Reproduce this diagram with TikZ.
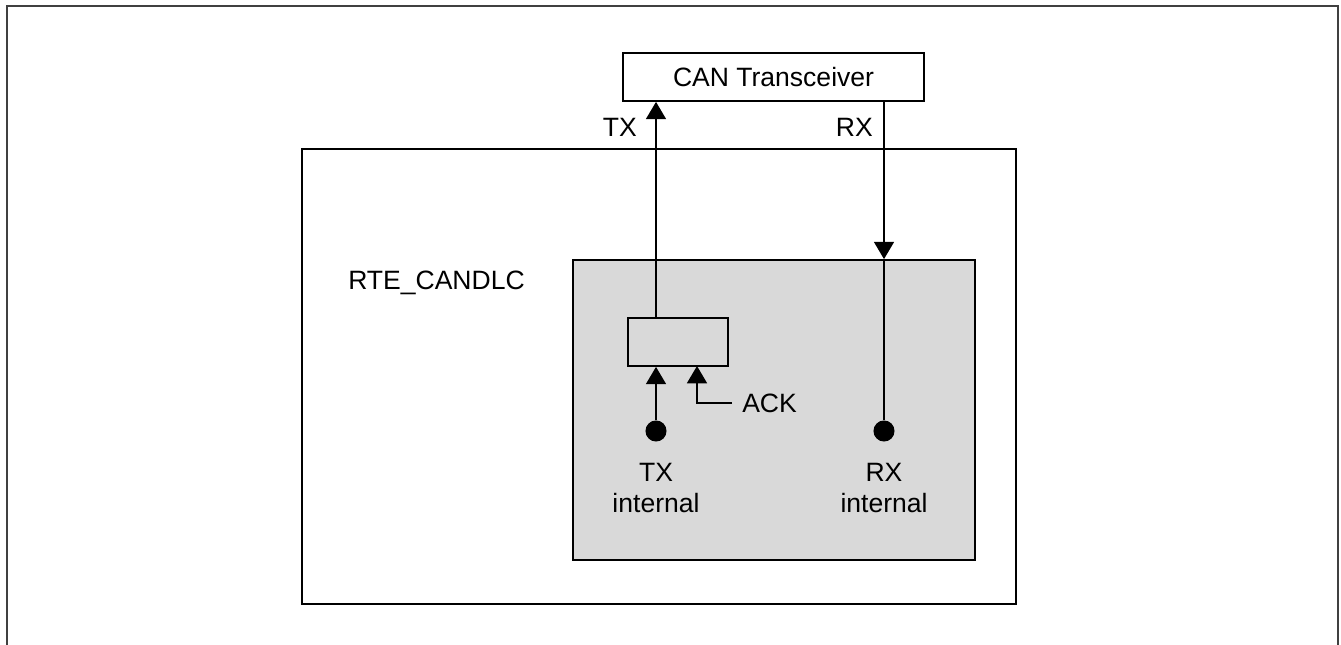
\documentclass[tikz,border=0pt]{standalone}
\usepackage{fontspec}
\setmainfont{Liberation Sans}
\usetikzlibrary{arrows.meta, fit}
\tikzset{
  blk/.style={draw, line width=1.3pt, inner sep=0pt},
  lbl/.style={font=\fontsize{19.9}{23.2}\selectfont, inner sep=0pt},
  sig/.style={line width=1.3pt, -{Triangle[width=15pt,length=13pt]}},
  wire/.style={line width=1.3pt},
  pin/.style={circle, fill=black, inner sep=0pt, minimum size=15.8pt},
}
\begin{document}
\begin{tikzpicture}[x=0.75pt, y=-0.75pt, >=latex]
\useasboundingbox (0,0) rectangle (1341,645);
% Rahmen
\draw[line width=2pt, black!75] (7,660) -- (7,6) -- (1338,6) -- (1338,660);
% Bloecke
\node[blk, fit={(623,53) (924,101)}] (trx) {};
\node[lbl] (trxname) at (trx.center) {CAN Transceiver};
\node[blk, fit={(302,149) (1016,604)}] (candlc) {};
\node[blk, fill=black!15, fit={(573,260) (975,560)}] (core) {};
\node[blk, fill=black!15, fit={(628,318) (728,366)}] (latch) {};
\node[lbl, anchor=west] (candlcname) at (348,283) {RTE\_CANDLC};
% Pins
\node[pin] (txin) at (656,431) {};
\node[pin] (rxin) at (884,431) {};
\node[lbl, align=center, anchor=north] (txname) at (656,463) {TX\\internal};
\node[lbl, align=center, anchor=north] (rxname) at (884,463) {RX\\internal};
% TX
\draw[sig] (txin) -- (txin |- latch.south);
\draw[sig] (txin |- latch.north) -- (txin |- trx.south);
\node[lbl, anchor=east] (txlbl) at (637,127) {TX};
% ACK
\node[lbl, anchor=west, inner xsep=7.5pt] (ack) at (732,403) {ACK};
\coordinate (ackin) at (697,366);
\draw[sig] (ack.west) -| (ackin);
% RX
\draw[sig] (rxin |- trx.south) -- (rxin |- core.north);
\draw[wire] (rxin |- core.north) -- (rxin);
\node[lbl, anchor=east] (rxlbl) at (873,127) {RX};
\end{tikzpicture}
\end{document}
